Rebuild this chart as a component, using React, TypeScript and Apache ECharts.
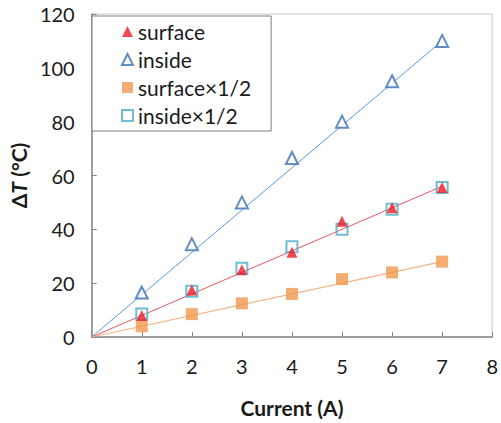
import React, { useEffect, useRef } from "react";
import * as echarts from "echarts";

const currents = [1, 2, 3, 4, 5, 6, 7];
const surface = [8, 17.5, 25, 31.5, 43, 48, 55.5];
const inside = [16.5, 34.5, 50, 66.5, 80, 95, 110];
const surfaceHalf = [4, 8.5, 12.5, 16, 21.5, 24, 28];
const insideHalf = [8.5, 17, 25.5, 33.5, 40, 47.5, 55.5];
// trend lines through the origin: [x, y] end points
const trendX = [0, 7];
const insideTrend = [0, 110];
const surfaceTrend = [0, 56];
const surfaceHalfTrend = [0, 28];
const xTicks = [0, 1, 2, 3, 4, 5, 6, 7, 8];
const yTicks = [0, 20, 40, 60, 80, 100, 120];

const FONT = "Lato, 'Open Sans', sans-serif";

function pts(ys: number[]) {
  return currents.map((x, i) => [x, ys[i]]);
}
function tpts(ys: number[]) {
  return trendX.map((x, i) => [x, ys[i]]);
}

export default function App() {
  const ref = useRef<HTMLDivElement>(null);
  useEffect(() => {
    if (!ref.current) return;
    const chart = echarts.init(ref.current, undefined, { renderer: "svg" });
    chart.setOption({
      animation: false,
      backgroundColor: "#ffffff",
      grid: {
        left: 90,
        right: 6,
        top: 14,
        bottom: 86,
        show: true,
        borderColor: "#c8c8c8",
        borderWidth: 1,
      },
      legend: {
        orient: "vertical",
        left: 92,
        top: 16,
        data: ["surface", "inside", "surface×1/2", "inside×1/2"],
        itemWidth: 11,
        itemHeight: 11,
        itemGap: 7,
        padding: [5, 20, 5, 29],
        borderColor: "#7f7f7f",
        borderWidth: 1,
        backgroundColor: "#ffffff",
        textStyle: { fontFamily: FONT, fontSize: 21, color: "#1a1a1a" },
      },
      xAxis: {
        type: "value",
        min: 0,
        max: 8,
        interval: 1,
        name: "Current (A)",
        nameLocation: "middle",
        nameGap: 60,
        nameTextStyle: { fontFamily: FONT, fontSize: 21, fontWeight: "bold", color: "#1a1a1a" },
        axisLine: { show: true, onZero: false, lineStyle: { color: "#868686", width: 1.5 } },
        axisTick: { show: true, inside: true, length: 5, lineStyle: { color: "#868686" } },
        axisLabel: {
          fontFamily: FONT,
          fontSize: 20,
          color: "#1a1a1a",
          margin: 19,
          formatter: (v: number) => (xTicks.includes(v) ? String(v) : ""),
        },
        splitLine: { show: false },
      },
      yAxis: {
        type: "value",
        min: 0,
        max: 120,
        interval: 20,
        name: "{a|Δ}{b|T}{a| (°C)}",
        nameLocation: "middle",
        nameGap: 60,
        nameRotate: 90,
        nameTextStyle: {
          rich: {
            a: { fontFamily: FONT, fontSize: 21, fontWeight: "bold", color: "#1a1a1a" },
            b: { fontFamily: FONT, fontSize: 21, fontWeight: "bold", fontStyle: "italic", color: "#1a1a1a" },
          },
        },
        axisLine: { show: true, onZero: false, lineStyle: { color: "#868686", width: 1.5 } },
        axisTick: { show: true, inside: true, length: 5, lineStyle: { color: "#868686" } },
        axisLabel: {
          fontFamily: FONT,
          fontSize: 20,
          color: "#1a1a1a",
          margin: 17,
          formatter: (v: number) => (yTicks.includes(v) ? String(v) : ""),
        },
        splitLine: { show: false },
      },
      series: [
        {
          name: "insideTrend",
          type: "line",
          data: tpts(insideTrend),
          symbol: "none",
          lineStyle: { color: "#5b9bd5", width: 1 },
          z: 1,
        },
        {
          name: "surfaceTrend",
          type: "line",
          data: tpts(surfaceTrend),
          symbol: "none",
          lineStyle: { color: "#e8575e", width: 1 },
          z: 1,
        },
        {
          name: "surfaceHalfTrend",
          type: "line",
          data: tpts(surfaceHalfTrend),
          symbol: "none",
          lineStyle: { color: "#f4b183", width: 1.2 },
          z: 1,
        },
        {
          name: "surface×1/2",
          type: "scatter",
          data: pts(surfaceHalf),
          symbol: "rect",
          symbolSize: 12,
          itemStyle: { color: "#f0974d" },
          z: 3,
        },
        {
          name: "inside×1/2",
          type: "scatter",
          data: pts(insideHalf),
          symbol: "rect",
          symbolSize: 11,
          itemStyle: { color: "rgba(255,255,255,0)", borderColor: "#4bacc6", borderWidth: 2 },
          z: 4,
        },
        {
          name: "surface",
          type: "scatter",
          data: pts(surface),
          symbol: "triangle",
          symbolSize: 11,
          itemStyle: { color: "#ee1c25" },
          z: 5,
        },
        {
          name: "inside",
          type: "scatter",
          data: pts(inside),
          symbol: "triangle",
          symbolSize: 12,
          itemStyle: { color: "#ffffff", borderColor: "#3a6fb5", borderWidth: 2 },
          z: 5,
        },
      ],
    });
    return () => chart.dispose();
  }, []);
  return <div ref={ref} style={{ width: 501, height: 423, position: "absolute", left: 0, top: 0 }} />;
}
